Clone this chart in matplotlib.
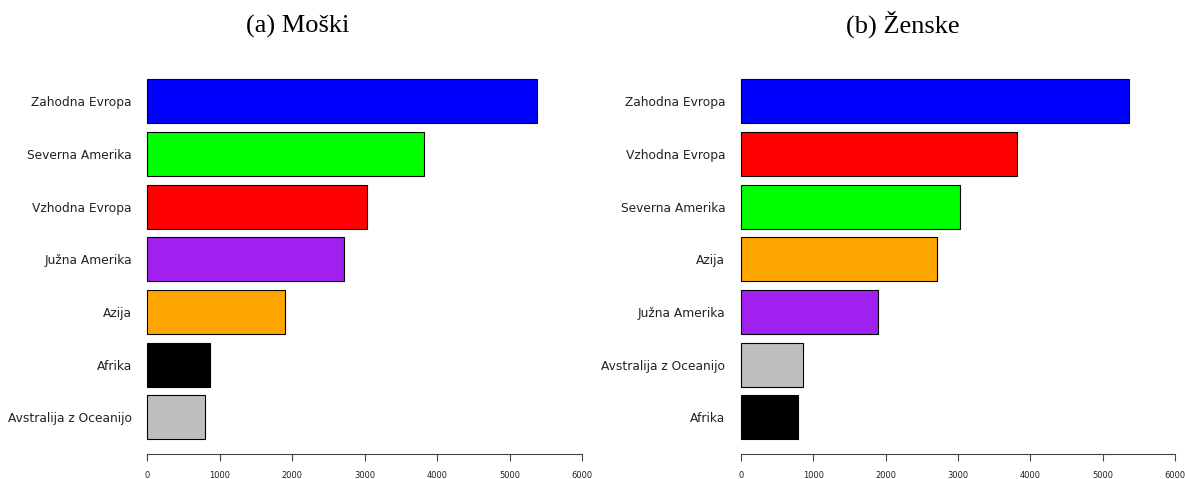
import matplotlib
matplotlib.use("Agg")
import matplotlib.pyplot as plt
import numpy as np

# Regions and values for each panel (top to bottom)
men_regions = ["Zahodna Evropa", "Severna Amerika", "Vzhodna Evropa", "Južna Amerika",
               "Azija", "Afrika", "Avstralija z Oceanijo"]
men_values = [5370, 3820, 3030, 2715, 1895, 870, 790]
men_colors = ["#0000FF", "#00FF00", "#FF0000", "#A020F0", "#FFA500", "#000000", "#BEBEBE"]

women_regions = ["Zahodna Evropa", "Vzhodna Evropa", "Severna Amerika", "Azija",
                 "Južna Amerika", "Avstralija z Oceanijo", "Afrika"]
women_values = [5365, 3815, 3028, 2710, 1891, 865, 787]
women_colors = ["#0000FF", "#FF0000", "#00FF00", "#FFA500", "#A020F0", "#BEBEBE", "#000000"]

x_ticks = [0, 1000, 2000, 3000, 4000, 5000, 6000]
titles = ["(a) Moški", "(b) Ženske"]

W, H = 1185, 479
fig = plt.figure(figsize=(W / 100, H / 100), dpi=100)

# plot regions in pixel terms: (left, right) for x; shared vertical extent
panels = [(129.9, 599.7), (723.3, 1192.7)]
top_px, bottom_px = 64.9, 453.7
title_x = [298, 903]


def draw_panel(left, right, regions, values, colors):
    ax = fig.add_axes([left / W, 1 - bottom_px / H, (right - left) / W, (bottom_px - top_px) / H])
    n = len(values)
    # bar centres: first category at the top
    centres = 0.7 + 1.2 * np.arange(n)[::-1]
    ax.barh(centres, values, height=1.0, color=colors, edgecolor="black", linewidth=0.8)
    ax.set_xlim(-240, 6240)
    ax.set_ylim(-0.128, 8.728)
    ax.set_yticks(centres)
    ax.set_yticklabels(regions, fontsize=8.8, color="#222222", family="DejaVu Sans")
    ax.tick_params(axis="y", length=0, pad=-1.5)
    ax.set_xticks(x_ticks)
    ax.set_xticklabels([str(t) for t in x_ticks], fontsize=6, color="#222222")
    ax.tick_params(axis="x", length=5, width=0.8, color="#444444", pad=7.5, direction="out")
    for s in ("top", "right", "left"):
        ax.spines[s].set_visible(False)
    ax.spines["bottom"].set_bounds(0, 6000)
    ax.spines["bottom"].set_color("#444444")
    ax.spines["bottom"].set_linewidth(0.8)
    ax.patch.set_alpha(0)
    return ax


draw_panel(*panels[0], men_regions, men_values, men_colors)
draw_panel(*panels[1], women_regions, women_values, women_colors)

for tx, t in zip(title_x, titles):
    fig.text(tx / W, 1 - 33 / H, t, ha="center", va="baseline",
             fontsize=19, family="Liberation Serif", color="black")

fig.savefig("out.png", dpi=100)
